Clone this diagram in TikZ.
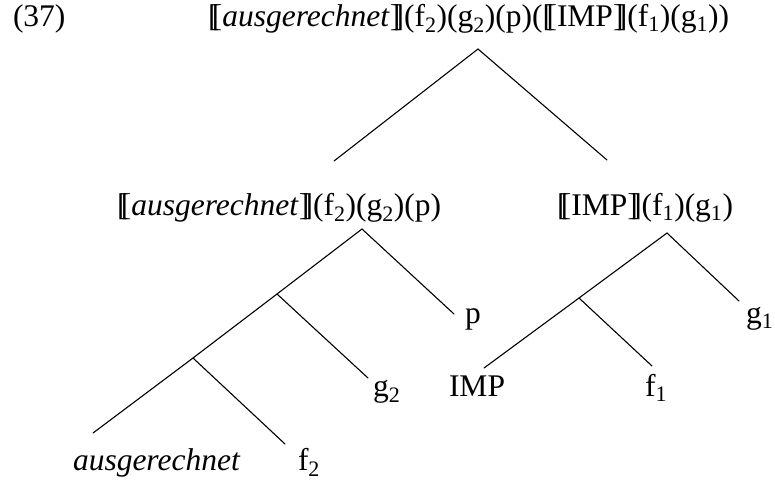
\documentclass[tikz,border=0pt]{standalone}
\usepackage{fontspec}
\setmainfont{Liberation Serif}
% semantic double brackets built from two overlapping square brackets
\newcommand\dlb{[\kern-0.21em[}
\newcommand\drb{]\kern-0.21em]}
\newcommand\lo[1]{\textsubscript{#1}}
\begin{document}
\begin{tikzpicture}[x=1pt,y=-1pt,
  lbl/.style={anchor=base west,inner sep=0pt,outer sep=0pt,font=\fontsize{31.5}{37}\selectfont},
  branch/.style={line width=1.1pt,line cap=round}]
\useasboundingbox (0,0) rectangle (775,480);

% labels
\node[lbl] (num)  at (13,26)  {(37)};
\node[lbl] (root) at (208,26) {\dlb\textit{ausgerechnet}\drb(f\lo{2})(g\lo{2})(p)(\dlb IMP\drb(f\lo{1})(g\lo{1}))};
\node[lbl] (left) at (117,215) {\dlb\textit{ausgerechnet}\drb(f\lo{2})(g\lo{2})(p)};
\node[lbl] (right) at (557,215) {\dlb IMP\drb(f\lo{1})(g\lo{1})};
\node[lbl] (p)   at (465,323) {p};
\node[lbl] (g1)  at (746,323) {g\lo{1}};
\node[lbl] (g2)  at (373,396) {g\lo{2}};
\node[lbl] (imp) at (449,396) {IMP};
\node[lbl] (f1)  at (645,396) {f\lo{1}};
\node[lbl] (aus) at (73,470)  {\textit{ausgerechnet}};
\node[lbl] (f2)  at (298,470) {f\lo{2}};

% branching points
\coordinate (r0) at (478,49);
\coordinate (rl) at (334,161);
\coordinate (rr) at (607,160);
\coordinate (l0) at (362,229);
\coordinate (l1) at (277,294);
\coordinate (l2) at (193,358);
\coordinate (lp) at (454,314);
\coordinate (lg) at (368,378);
\coordinate (lf) at (285,444);
\coordinate (la) at (93,433);
\coordinate (q0) at (667,233);
\coordinate (q1) at (579,298);
\coordinate (qg) at (739,301);
\coordinate (qf) at (652,366);
\coordinate (qi) at (484,368);

% tree branches
\draw[branch] (rl) -- (r0) -- (rr);
\draw[branch] (la) -- (l2) -- (l1) -- (l0) -- (lp);
\draw[branch] (l1) -- (lg);
\draw[branch] (l2) -- (lf);
\draw[branch] (qi) -- (q1) -- (q0) -- (qg);
\draw[branch] (q1) -- (qf);
\end{tikzpicture}
\end{document}
